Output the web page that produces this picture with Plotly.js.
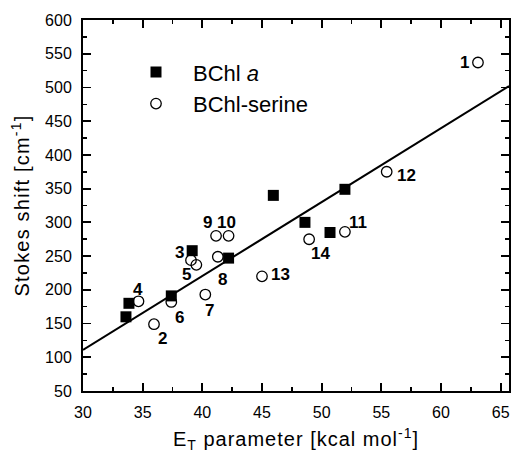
<!DOCTYPE html>
<html>
<head>
<meta charset="utf-8">
<script src="https://cdn.plot.ly/plotly-3.0.1.min.js"></script>
<style>
html,body{margin:0;padding:0;background:#fff;}
#chart{width:513px;height:462px;}
#chart .xtitle{letter-spacing:1px;}
#chart .ytitle{letter-spacing:1.2px;}
</style>
</head>
<body>
<div id="chart"></div>
<script>
// BChl a (filled squares)
var bchlX = [33.6, 33.85, 37.4, 39.15, 42.2, 45.95, 48.6, 50.7, 51.95];
var bchlY = [160, 180, 191, 258, 247, 340, 300, 285, 349];

// BChl-serine (open circles), numbered compounds
var serLabels = ['1', '2', '3', '4', '5', '6', '7', '8', '9', '10', '11', '12', '13', '14'];
var serX = [63.1, 35.95, 39.05, 34.65, 39.5, 37.4, 40.25, 41.3, 41.15, 42.2, 51.95, 55.45, 45.0, 48.95];
var serY = [537, 149, 244, 183, 237, 182, 193, 249, 280, 280, 286, 375, 220, 275];

// linear fit line
var fitX = [30, 65.7];
var fitY = [111, 502];

// tick labels
var xTicks = [30, 35, 40, 45, 50, 55, 60, 65];
var yTicks = [50, 100, 150, 200, 250, 300, 350, 400, 450, 500, 550, 600];

// label offsets (pixels) for the number labels
var labelOffsets = {
  '1': [-13, 0], '2': [8, 14], '3': [-11, -8], '4': [0, -12], '5': [-10, 10],
  '6': [8, 16], '7': [4, 16], '8': [5, 23], '9': [-9, -13], '10': [-2, -13],
  '11': [13, -9], '12': [20, 4], '13': [19, -2], '14': [11, 14]
};

var FONT = 'Liberation Sans, Arial, Helvetica, sans-serif';

var traces = [
  {
    x: fitX, y: fitY, mode: 'lines', type: 'scatter',
    line: {color: '#000', width: 2}, showlegend: false, hoverinfo: 'skip'
  },
  {
    x: bchlX, y: bchlY, mode: 'markers', type: 'scatter',
    name: 'BChl <i>a</i>',
    marker: {symbol: 'square', size: 11, color: '#000', line: {width: 0}}
  },
  {
    x: serX, y: serY, mode: 'markers', type: 'scatter',
    name: 'BChl-serine',
    marker: {symbol: 'circle-open', size: 10.5, color: '#000', line: {width: 1.3, color: '#000'}}
  }
];

var annotations = serLabels.map(function (t, i) {
  var o = labelOffsets[t];
  return {
    x: serX[i], y: serY[i], xref: 'x', yref: 'y', text: t, showarrow: false,
    xshift: o[0], yshift: -o[1],
    font: {family: FONT, size: 17, color: '#000', weight: 'bold'}
  };
});

var axisCommon = {
  showline: true, linecolor: '#000', linewidth: 2, mirror: 'allticks',
  ticks: 'inside', ticklen: 8, tickwidth: 1.8, tickcolor: '#000',
  showgrid: false, zeroline: false,
  tickfont: {family: FONT, size: 16, color: '#000'}
};

var layout = {
  width: 513, height: 462,
  margin: {l: 83, r: 4, t: 20, b: 71},
  paper_bgcolor: '#fff', plot_bgcolor: '#fff',
  font: {family: FONT, color: '#000'},
  showlegend: true,
  legend: {
    x: 0.0845, y: 0.916, xanchor: 'left', yanchor: 'top',
    bgcolor: 'rgba(0,0,0,0)', borderwidth: 0,
    font: {family: FONT, size: 22, color: '#000'},
    itemwidth: 64
  },
  xaxis: Object.assign({}, axisCommon, {
    range: [30, 65.7], tickmode: 'array', tickvals: xTicks,
    ticklabelstandoff: 6,
    minor: {dtick: 2.5, ticks: 'inside', ticklen: 4, tickwidth: 1.5, tickcolor: '#000', showgrid: false},
    title: {text: 'E<sub>T</sub> parameter [kcal mol<sup>-1</sup>]', font: {family: FONT, size: 20, color: '#000'}, standoff: 12}
  }),
  yaxis: Object.assign({}, axisCommon, {
    range: [50, 600], tickmode: 'array', tickvals: yTicks,
    ticklabelstandoff: 6,
    minor: {dtick: 25, ticks: 'inside', ticklen: 4, tickwidth: 1.5, tickcolor: '#000', showgrid: false},
    title: {text: 'Stokes shift [cm<sup>-1</sup>]', font: {family: FONT, size: 20, color: '#000'}, standoff: 10}
  }),
  annotations: annotations
};

Plotly.newPlot('chart', traces, layout, {displayModeBar: false, staticPlot: true});
</script>
</body>
</html>
